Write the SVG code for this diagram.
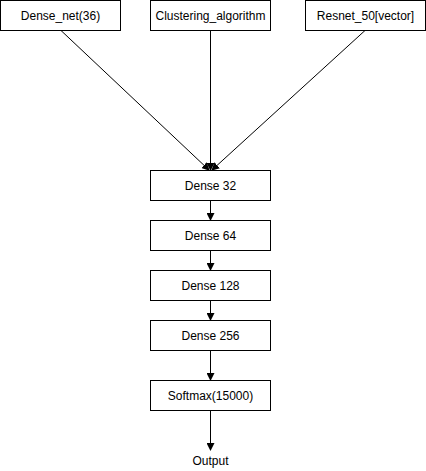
<svg xmlns="http://www.w3.org/2000/svg" width="426" height="471" viewBox="0 0 426 471">
<style>
.box{fill:#fff;stroke:#000;stroke-width:1}
text{font-family:"Liberation Sans",Arial,sans-serif;font-size:12px;fill:#000;text-anchor:middle;dominant-baseline:central}
.c{stroke:#000;stroke-width:1;fill:none;marker-end:url(#ah)}
</style>
<defs>
<marker id="ah" markerWidth="8" markerHeight="8" refX="7" refY="4" orient="auto" markerUnits="userSpaceOnUse">
<path d="M0,0 L8,4 L0,8 Z" fill="#000"/>
</marker>
</defs>
<rect width="426" height="471" fill="#fff"/>
<g id="connectors">
<path class="c" d="M61,30.5 L209,170"/>
<path class="c" d="M210.5,30.5 L210.5,170"/>
<path class="c" d="M365,30.5 L212,170"/>
<path class="c" d="M210.5,200.5 L210.5,220"/>
<path class="c" d="M210.5,250.5 L210.5,270"/>
<path class="c" d="M210.5,300.5 L210.5,320"/>
<path class="c" d="M210.5,350.5 L210.5,380"/>
<path class="c" d="M210.5,410.5 L210.5,450"/>
</g>
<g id="dense_net"><rect class="box" x="0.5" y="0.5" width="120" height="30"/><text x="60.5" y="15.5">Dense_net(36)</text></g>
<g id="clustering"><rect class="box" x="150.5" y="0.5" width="120" height="30"/><text x="210.5" y="15.5">Clustering_algorithm</text></g>
<g id="resnet"><rect class="box" x="305.5" y="0.5" width="120" height="30"/><text x="365.5" y="15.5">Resnet_50[vector]</text></g>
<g id="dense32"><rect class="box" x="150.5" y="170.5" width="120" height="30"/><text x="210.5" y="185.5">Dense 32</text></g>
<g id="dense64"><rect class="box" x="150.5" y="220.5" width="120" height="30"/><text x="210.5" y="235.5">Dense 64</text></g>
<g id="dense128"><rect class="box" x="150.5" y="270.5" width="120" height="30"/><text x="210.5" y="285.5">Dense 128</text></g>
<g id="dense256"><rect class="box" x="150.5" y="320.5" width="120" height="30"/><text x="210.5" y="335.5">Dense 256</text></g>
<g id="softmax"><rect class="box" x="150.5" y="380.5" width="120" height="30"/><text x="210.5" y="395.5">Softmax(15000)</text></g>
<g id="output"><text x="210.5" y="460.5">Output</text></g>
</svg>
